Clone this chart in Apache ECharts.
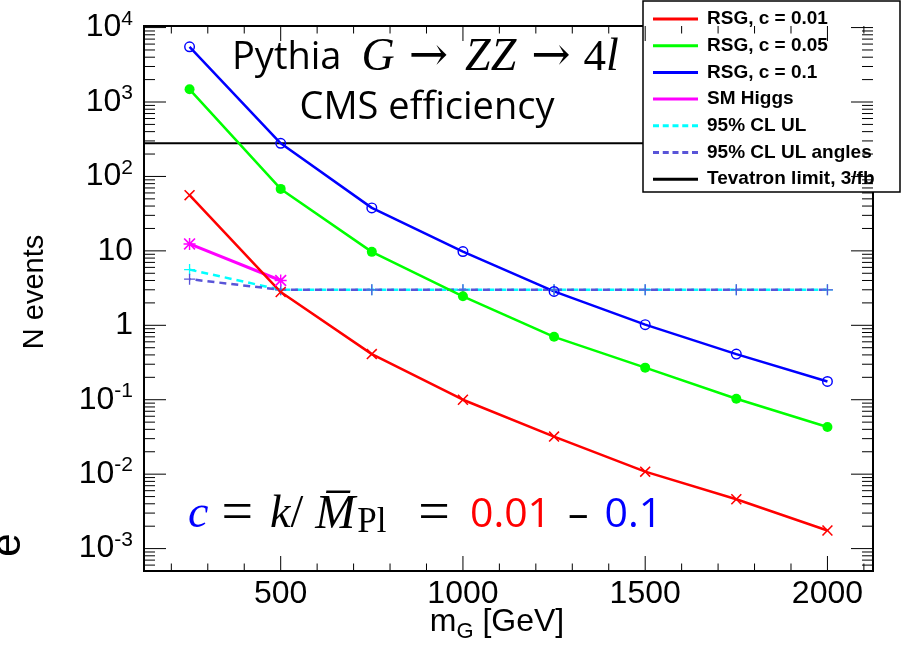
<!DOCTYPE html>
<html><head><meta charset="utf-8">
<script src="https://cdn.jsdelivr.net/npm/echarts@6/dist/echarts.min.js"></script>
<style>html,body{margin:0;padding:0;background:#fff}#c{width:905px;height:646px}</style>
</head><body><div id="c"></div>
<script>
// ---- data ----
const masses = [250, 500, 750, 1000, 1250, 1500, 1750, 2000];
const rsg001 = [56, 2.8, 0.41, 0.10, 0.032, 0.0108, 0.0046, 0.00175];
const rsg005 = [1480, 68, 9.7, 2.45, 0.70, 0.27, 0.103, 0.043];
const rsg01  = [5520, 279, 37.8, 9.8, 2.85, 1.02, 0.41, 0.176];
const higgsMasses = [250, 500];
const smHiggs = [12.4, 4.0];
const ul95 = [5.6, 3.0, 3.0, 3.0, 3.0, 3.0, 3.0, 3.0];
const ul95Angles = [4.17, 3.0, 3.0, 3.0, 3.0, 3.0, 3.0, 3.0];
const tevatronX = [125, 2125];
const tevatronLimit = 280;
const xRange = [125, 2125];
const yRange = [5e-4, 1.05e4];
const xMajorTicks = [500, 1000, 1500, 2000];
const xMinorTicks = [200, 300, 400, 600, 700, 800, 900, 1100, 1200, 1300, 1400, 1600, 1700, 1800, 1900, 2100];
const yMajorTicks = [1e-3, 1e-2, 1e-1, 1, 10, 100, 1000, 10000];
const yMinorMultipliers = [2, 3, 4, 5, 6, 7, 8, 9];
const legendNames = ['RSG, c = 0.01', 'RSG, c = 0.05', 'RSG, c = 0.1', 'SM Higgs', '95% CL UL', '95% CL UL angles', 'Tevatron limit, 3/fb'];

// ---- build ----
const yMinorTicks = [];
for (let e = -4; e <= 3; e++) yMinorMultipliers.forEach(m => { const v = m * Math.pow(10, e); if (v >= yRange[0] && v <= yRange[1]) yMinorTicks.push(v); });
const tickData = [];
yMajorTicks.forEach(v => tickData.push([xRange[0], v, 0]));
yMinorTicks.forEach(v => tickData.push([xRange[0], v, 1]));
xMajorTicks.forEach(v => tickData.push([v, 1, 2]));
xMinorTicks.forEach(v => tickData.push([v, 1, 3]));

const X_PATH = 'path://M0,1L1,0L5,4L9,0L10,1L6,5L10,9L9,10L5,6L1,10L0,9L4,5Z';
const PLUS_PATH = 'path://M4.4,0H5.6V4.4H10V5.6H5.6V10H4.4V5.6H0V4.4H4.4Z';
const STAR_PATH = 'path://M0,1L1,0L5,4L9,0L10,1L6,5L10,9L9,10L5,6L1,10L0,9L4,5Z M4.4,0H5.6V4.4H10V5.6H5.6V10H4.4V5.6H0V4.4H4.4Z';
const RING_PATH = 'path://M5,0A5,5 0 1,0 5,10A5,5 0 1,0 5,0Z M5,1.3A3.7,3.7 0 1,1 5,8.7A3.7,3.7 0 1,1 5,1.3Z';
const SOLID_ICON = 'path://M0,0H45V3H0Z';
const DASH_ICON = 'path://M0,0H6V3H0Z M9.75,0H15.75V3H9.75Z M19.5,0H25.5V3H19.5Z M29.25,0H35.25V3H29.25Z M39,0H45V3H39Z';

const pair = (xs, ys) => xs.map((x, i) => [x, ys[i]]);

const chart = echarts.init(document.getElementById('c'), null, {renderer: 'canvas'});
const labelFont = 'Liberation Sans';
chart.setOption({
  animation: false,
  backgroundColor: '#fff',
  grid: {left: 144, right: 32, top: 26, bottom: 75, show: true, borderColor: '#000', borderWidth: 2, backgroundColor: 'transparent'},
  xAxis: {
    type: 'value', min: xRange[0], max: xRange[1], splitNumber: 4,
    axisLine: {show: false}, axisTick: {show: false}, splitLine: {show: false},
    axisLabel: {margin: 7, color: '#000', fontFamily: labelFont, fontSize: 32,
      formatter: v => (v % 500 === 0 ? String(v) : '')}
  },
  yAxis: {
    type: 'log', logBase: 10, min: yRange[0], max: yRange[1], splitNumber: 8,
    axisLine: {show: false}, axisTick: {show: false}, splitLine: {show: false},
    axisLabel: {margin: 11, color: '#000', fontFamily: labelFont, fontSize: 32,
      formatter: v => {
        const e = Math.log10(v); const n = Math.round(e);
        if (Math.abs(e - n) > 1e-6) return '';
        if (n === 0) return '1';
        if (n === 1) return '10';
        return '10{sup|' + n + '}';
      },
      rich: {sup: {fontFamily: labelFont, fontSize: 21, color: '#000', padding: [0, 0, 17, 0]}}
    }
  },
  legend: {
    orient: 'vertical', left: 653, top: 9, padding: 0, itemGap: 6.7,
    itemWidth: 45, itemHeight: 3, selectedMode: false,
    textStyle: {color: '#000', fontFamily: labelFont, fontWeight: 'bold', fontSize: 19, lineHeight: 20, padding: [0, 0, 0, 4]},
    data: [
      {name: legendNames[0], icon: SOLID_ICON, itemStyle: {color: '#ff0000'}},
      {name: legendNames[1], icon: SOLID_ICON, itemStyle: {color: '#00ff00'}},
      {name: legendNames[2], icon: SOLID_ICON, itemStyle: {color: '#0000ff'}},
      {name: legendNames[3], icon: SOLID_ICON, itemStyle: {color: '#ff00ff'}},
      {name: legendNames[4], icon: DASH_ICON, itemStyle: {color: '#00ffff'}},
      {name: legendNames[5], icon: DASH_ICON, itemStyle: {color: '#5954d8'}},
      {name: legendNames[6], icon: SOLID_ICON, itemStyle: {color: '#000000'}}
    ]
  },
  graphic: [
    {type: 'rect', z: 3, shape: {x: 643, y: 1, width: 257, height: 191}, style: {fill: '#fff', stroke: '#000', lineWidth: 1.5}},
    {type: 'text', x: 232, y: 58, style: {
      text: '{s|Pythia}{m|G}{a|→}{m|ZZ}{a2|→}{n|4}{m|l}', textAlign: 'left', textVerticalAlign: 'middle',
      rich: {
        s: {fontFamily: 'Open Sans', fontSize: 38, fill: '#000', padding: [0, 20, 0, 0]},
        m: {fontFamily: 'Liberation Serif', fontStyle: 'italic', fontSize: 46, fill: '#000'},
        n: {fontFamily: 'Liberation Serif', fontSize: 45, fill: '#000'},
        a: {fontFamily: 'DejaVu Serif', fontSize: 47, fill: '#000', padding: [0, 17, 0, 14]},
        a2: {fontFamily: 'DejaVu Serif', fontSize: 47, fill: '#000', padding: [0, 13, 0, 15]}
      }}},
    {type: 'text', x: 427, y: 108, style: {text: 'CMS efficiency', font: '38px "Open Sans"', fill: '#000', textAlign: 'center', textVerticalAlign: 'middle'}},
    {type: 'text', x: 188, y: 515, style: {
      text: '{c|c}{e|=}{k|k}{sl|/}{mm|M\u0305}{sub|Pl}{e2|=}{r|0.01}{d|–}{b|0.1}', textAlign: 'left', textVerticalAlign: 'middle',
      rich: {
        c: {fontFamily: 'Liberation Serif', fontStyle: 'italic', fontSize: 46, fill: '#0000ff'},
        e: {fontFamily: 'Liberation Serif', fontSize: 56, fill: '#000', padding: [0, 17, 0, 13]},
        k: {fontFamily: 'Liberation Serif', fontStyle: 'italic', fontSize: 46, fill: '#000'},
        sl: {fontFamily: 'Liberation Serif', fontSize: 46, fill: '#000'},
        mm: {fontFamily: 'Liberation Serif', fontStyle: 'italic', fontSize: 48, fill: '#000', padding: [0, 2, 0, 12]},
        sub: {fontFamily: 'Liberation Serif', fontSize: 35, fill: '#000', padding: [16, 6, 0, 0]},
        e2: {fontFamily: 'Liberation Serif', fontSize: 56, fill: '#000', padding: [0, 20, 0, 26]},
        r: {fontFamily: 'Open Sans', fontSize: 41, fill: '#ff0000'},
        d: {fontFamily: 'Open Sans', fontSize: 41, fill: '#000', padding: [0, 16, 0, 17]},
        b: {fontFamily: 'Open Sans', fontSize: 41, fill: '#0000ff'}
      }}},
    {type: 'text', x: 35, y: 292, rotation: Math.PI / 2, style: {text: 'N events', font: '29px "Liberation Sans"', fill: '#000', textAlign: 'center', textVerticalAlign: 'middle'}},
    {type: 'text', x: 497, y: 622, style: {text: 'm{sub|G} [GeV]', font: '32px "Liberation Sans"', fill: '#000', textAlign: 'center', textVerticalAlign: 'middle',
      rich: {sub: {fontFamily: 'Liberation Sans', fontSize: 22, fill: '#000', padding: [20, 0, 0, 0]}}}},
    {type: 'text', x: 8, y: 545, rotation: Math.PI / 2, style: {text: 'e', font: '42px "Liberation Sans"', fill: '#000', textAlign: 'center', textVerticalAlign: 'middle'}}
  ],
  series: [
    {type: 'custom', silent: true, clip: false, z: 5, encode: {x: 0, y: 1}, data: tickData,
      renderItem: (params, api) => {
        const cs = params.coordSys; const kind = api.value(2);
        const p = api.coord([api.value(0), api.value(1)]);
        const st = {stroke: '#000', lineWidth: 1};
        if (kind < 2) {
          const len = kind === 0 ? 22 : 11;
          return {type: 'group', children: [
            {type: 'line', shape: {x1: cs.x, y1: p[1], x2: cs.x + len, y2: p[1]}, style: st},
            {type: 'line', shape: {x1: cs.x + cs.width - len, y1: p[1], x2: cs.x + cs.width, y2: p[1]}, style: st}
          ]};
        }
        const len = kind === 2 ? 15 : 7.5;
        return {type: 'group', children: [
          {type: 'line', shape: {x1: p[0], y1: cs.y + cs.height, x2: p[0], y2: cs.y + cs.height - len}, style: st},
          {type: 'line', shape: {x1: p[0], y1: cs.y, x2: p[0], y2: cs.y + len}, style: st}
        ]};
      }},
    {name: legendNames[6], type: 'line', data: pair(tevatronX, [tevatronLimit, tevatronLimit]), symbol: 'none',
      lineStyle: {color: '#000', width: 2}, itemStyle: {color: '#000'}, z: 2},
    {name: legendNames[4], type: 'line', data: pair(masses, ul95), symbol: PLUS_PATH, symbolSize: 11,
      lineStyle: {color: '#00ffff', width: 2.5, type: [7, 5]}, itemStyle: {color: '#00ffff'}, z: 2},
    {name: legendNames[5], type: 'line', data: pair(masses, ul95Angles), symbol: PLUS_PATH, symbolSize: 11,
      lineStyle: {color: '#5954d8', width: 2.5, type: [7, 5], dashOffset: 6}, itemStyle: {color: '#5954d8'}, z: 2},
    {name: legendNames[3], type: 'line', data: pair(higgsMasses, smHiggs), symbol: STAR_PATH, symbolSize: 12,
      lineStyle: {color: '#ff00ff', width: 3}, itemStyle: {color: '#ff00ff'}, z: 2},
    {name: legendNames[0], type: 'line', data: pair(masses, rsg001), symbol: X_PATH, symbolSize: 11,
      lineStyle: {color: '#ff0000', width: 2.5}, itemStyle: {color: '#ff0000'}, z: 2},
    {name: legendNames[1], type: 'line', data: pair(masses, rsg005), symbol: 'circle', symbolSize: 10,
      lineStyle: {color: '#00ff00', width: 2.5}, itemStyle: {color: '#00ff00'}, z: 2},
    {name: legendNames[2], type: 'line', data: pair(masses, rsg01), symbol: RING_PATH, symbolSize: 11,
      lineStyle: {color: '#0000ff', width: 2.5}, itemStyle: {color: '#0000ff'}, z: 2}
  ]
});
</script></body></html>
